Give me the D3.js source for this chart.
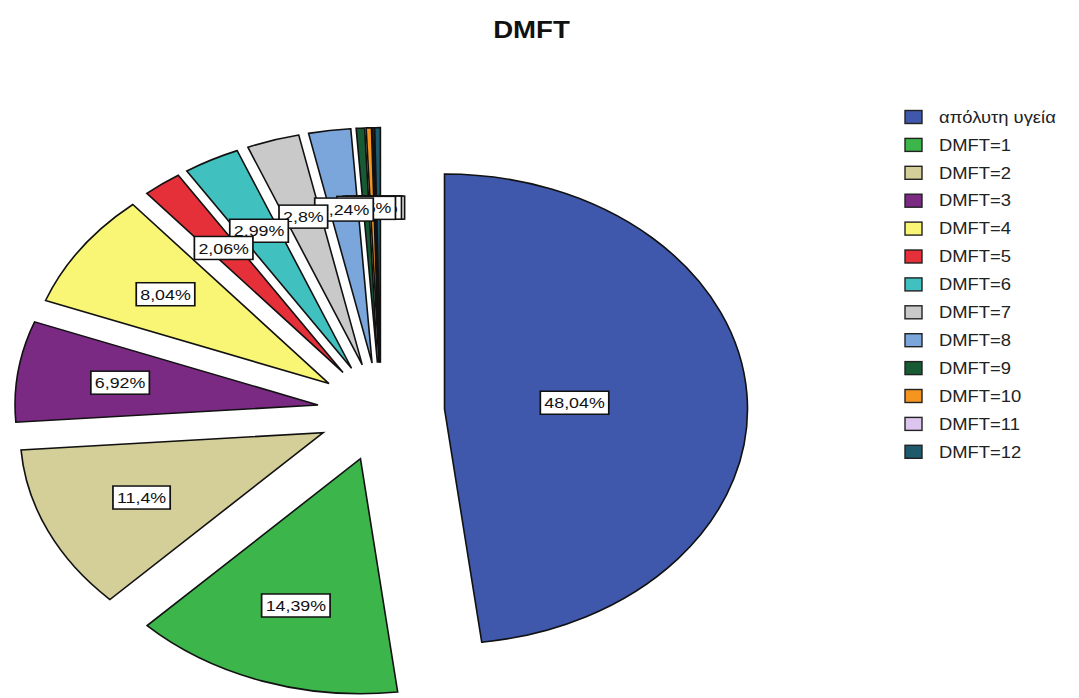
<!DOCTYPE html>
<html>
<head>
<meta charset="utf-8">
<script src="https://cdn.jsdelivr.net/npm/d3@7"></script>
<style>
  html, body { margin: 0; padding: 0; background: #fff; }
  svg { display: block; font-family: "Liberation Sans", Arial, sans-serif; }
</style>
</head>
<body>
<svg id="chart" width="1079" height="698"></svg>
<script>
// ---- data ----
const categories = ["απόλυτη υγεία", "DMFT=1", "DMFT=2", "DMFT=3", "DMFT=4", "DMFT=5", "DMFT=6",
                    "DMFT=7", "DMFT=8", "DMFT=9", "DMFT=10", "DMFT=11", "DMFT=12"];
const percents = [48.04, 14.39, 11.4, 6.92, 8.04, 2.06, 2.99, 2.8, 2.24, 0.45, 0.28, 0.09, 0.30];
const sliceColors = ["#3f58ab", "#3cb54b", "#d4cf98", "#7b2a84", "#faf675", "#e5303a", "#40c0bf",
                     "#c9c9c9", "#7aa6dc", "#175a34", "#f5951f", "#dcc5ee", "#1f5a6c"];
const titleText = "DMFT";

// ---- layout ----
const W = 1079, H = 698;
const cx = 381, cy = 412, rx = 303, ry = 235;
const explode = 0.21;       // explode distance, in radius units
const stretch = 1.15;       // horizontal stretch of text in the reference

const svg = d3.select("#chart");

const x = d3.scaleLinear().domain([-1, 1]).range([cx - rx, cx + rx]);
const y = d3.scaleLinear().domain([-1, 1]).range([cy - ry, cy + ry]);
const color = d3.scaleOrdinal().domain(categories).range(sliceColors);

const pie = d3.pie().sort(null).value(d => d.v);
const data = categories.map((c, i) => ({ c, v: percents[i] }));
const arcs = pie(data);

const fmt = v => String(v).replace(".", ",") + "%";

// title
svg.append("text")
  .attr("transform", `translate(${W / 2 - 8},38) scale(${stretch},1)`)
  .attr("text-anchor", "middle")
  .attr("font-weight", "bold")
  .attr("font-size", 24)
  .attr("fill", "#111")
  .text(titleText);

// slices
const gPie = svg.append("g");
arcs.forEach((a, i) => {
  const m = (a.startAngle + a.endAngle) / 2;
  const ex = explode * Math.sin(m), ey = -explode * Math.cos(m);
  const p0 = [x(ex), y(ey)];
  const p1 = [x(ex + Math.sin(a.startAngle)), y(ey - Math.cos(a.startAngle))];
  const p2 = [x(ex + Math.sin(a.endAngle)), y(ey - Math.cos(a.endAngle))];
  const large = (a.endAngle - a.startAngle) > Math.PI ? 1 : 0;
  const arx = x(1) - x(0), ary = y(1) - y(0);
  const d = `M${p0[0]},${p0[1]}L${p1[0]},${p1[1]}A${arx},${ary} 0 ${large} 1 ${p2[0]},${p2[1]}Z`;
  gPie.append("path")
    .attr("d", d)
    .attr("fill", color(a.data.c))
    .attr("stroke", "#111")
    .attr("stroke-width", 1.6)
    .attr("stroke-linejoin", "miter");
});

// labels (drawn in reverse so the earlier slices' labels sit on top)
const gLab = svg.append("g");
arcs.slice().reverse().forEach(a => {
  const i = a.index;
  const m = (a.startAngle + a.endAngle) / 2;
  const f = i === 0 ? 0.43 : 0.66;
  const ex = explode * Math.sin(m), ey = -explode * Math.cos(m);
  const lx = x(ex + f * Math.sin(m)), ly = y(ey - f * Math.cos(m));
  const g = gLab.append("g").attr("transform", `translate(${lx},${ly}) scale(${stretch},1)`);
  const rect = g.append("rect");
  const t = g.append("text")
    .attr("text-anchor", "middle")
    .attr("dy", "0.36em")
    .attr("font-size", 15.5)
    .attr("fill", "#111")
    .text(fmt(a.data.v));
  const w = t.node().getComputedTextLength();
  rect.attr("x", -w / 2 - 3.5).attr("y", -11.5)
    .attr("width", w + 7).attr("height", 23)
    .attr("fill", "#fff")
    .attr("stroke", "#111")
    .attr("stroke-width", 1.5);
});

// legend
const legY0 = 117, legStep = 27.9;
const gLeg = svg.append("g");
categories.forEach((c, i) => {
  const yy = legY0 + i * legStep;
  gLeg.append("rect")
    .attr("x", 905).attr("y", yy - 6.5)
    .attr("width", 17).attr("height", 13)
    .attr("fill", color(c))
    .attr("stroke", "#222")
    .attr("stroke-width", 1.4);
  gLeg.append("text")
    .attr("transform", `translate(939,${yy}) scale(${stretch},1)`)
    .attr("dy", "0.36em")
    .attr("font-size", 16)
    .attr("fill", "#222")
    .text(c);
});
</script>
</body>
</html>
